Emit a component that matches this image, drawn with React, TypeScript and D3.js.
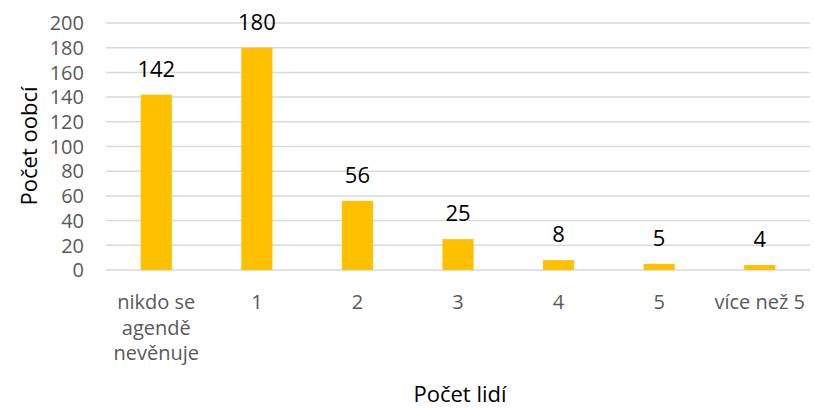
import React from "react";
import * as d3 from "d3";

const categories = ["nikdo se agendě nevěnuje", "1", "2", "3", "4", "5", "více než 5"];
const categoryLines = [["nikdo se", "agendě", "nevěnuje"], ["1"], ["2"], ["3"], ["4"], ["5"], ["více než 5"]];
const values = [142, 180, 56, 25, 8, 5, 4];
const yTicks = [0, 20, 40, 60, 80, 100, 120, 140, 160, 180, 200];

const W = 814;
const H = 409;
const left = 106;
const right = 810;
const top = 23;
const bottom = 270;
const font = "'Open Sans', 'Liberation Sans', Arial, sans-serif";

export default function App() {
  const x = d3.scaleBand<string>().domain(categories).range([left, right]).paddingInner(0.69).paddingOuter(0.345);
  const y = d3.scaleLinear().domain([0, 200]).range([bottom, top]);
  return (
    <svg width={W} height={H} style={{ position: "absolute", left: 0, top: 0, background: "#fff" }}>
      {yTicks.map((t) => (
        <g key={t}>
          <line x1={left} x2={right} y1={y(t)} y2={y(t)} stroke="#d9d9d9" strokeWidth={1.5} />
          <text x={84} y={y(t)} dy="0.36em" textAnchor="end" fontSize={20} fill="#595959" fontFamily={font}>
            {t}
          </text>
        </g>
      ))}
      {categories.map((c, i) => (
        <g key={c}>
          <rect x={x(c)} y={y(values[i])} width={x.bandwidth()} height={bottom - y(values[i])} fill="#FFC000" />
          <text x={(x(c) as number) + x.bandwidth() / 2} y={y(values[i]) - 18} textAnchor="middle" fontSize={22} fill="#000" fontFamily={font}>
            {values[i]}
          </text>
          {categoryLines[i].map((ln, j) => (
            <text key={j} x={(x(c) as number) + x.bandwidth() / 2} y={309 + j * 25.5} textAnchor="middle" fontSize={20} fill="#595959" fontFamily={font}>
              {ln}
            </text>
          ))}
        </g>
      ))}
      <text x={460} y={402} textAnchor="middle" fontSize={22} fill="#000" fontFamily={font}>
        Počet lidí
      </text>
      <text transform={`translate(37,146) rotate(-90)`} textAnchor="middle" fontSize={22} fill="#000" fontFamily={font}>
        Počet oobcí
      </text>
    </svg>
  );
}
